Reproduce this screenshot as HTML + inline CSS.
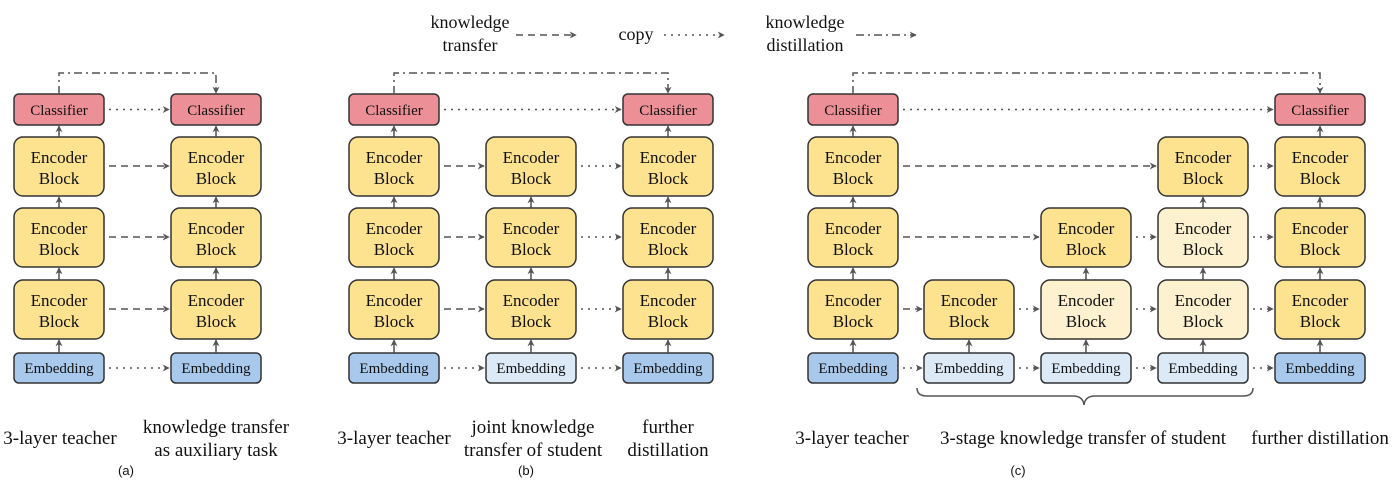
<!DOCTYPE html>
<html><head><meta charset="utf-8"><style>
html,body{margin:0;padding:0;background:#fff;width:1400px;height:495px;overflow:hidden}
svg{display:block}
text{font-family:"Liberation Serif",serif;fill:#111}
.cl{fill:#ec8f96;stroke:#333;stroke-width:1.5}
.en{fill:#fde28f;stroke:#333;stroke-width:1.5}
.enl{fill:#fdf1cf;stroke:#333;stroke-width:1.5}
.em{fill:#a9c9ec;stroke:#333;stroke-width:1.5}
.eml{fill:#dce9f7;stroke:#333;stroke-width:1.5}
.v{stroke:#444;stroke-width:1.4;fill:none;marker-end:url(#ah)}
.da{stroke:#555;stroke-width:1.5;fill:none;stroke-dasharray:7 5;marker-end:url(#ah)}
.dt{stroke:#555;stroke-width:1.5;fill:none;stroke-dasharray:2 5;marker-end:url(#ah)}
.dd{stroke:#555;stroke-width:1.5;fill:none;stroke-dasharray:8 4 2 4;marker-end:url(#ah)}
.bt{font-size:17px;text-anchor:middle}
.st{font-size:15px;text-anchor:middle}
.lb{font-size:19px;text-anchor:middle}
.lg{font-size:18px;text-anchor:middle}
.cap{font-family:"Liberation Sans",sans-serif;font-size:13px;text-anchor:middle}
</style></head><body>
<svg width="1400" height="495" viewBox="0 0 1400 495" xmlns="http://www.w3.org/2000/svg">
<defs>
<marker id="ah" viewBox="0 0 10 10" refX="9" refY="5" markerWidth="7" markerHeight="7" markerUnits="userSpaceOnUse" orient="auto"><path d="M0,0 L10,5 L0,10 L3,5 z" fill="#555"/></marker>
<g id="enc"><text class="bt" x="45" y="26">Encoder</text><text class="bt" x="45" y="47">Block</text></g>
</defs>

<text class="lg" x="470" y="28">knowledge</text>
<text class="lg" x="470" y="51">transfer</text>
<line class="da" x1="516" y1="35" x2="576" y2="35"/>
<text class="lg" x="636" y="40">copy</text>
<line class="dt" x1="664" y1="35" x2="724" y2="35"/>
<text class="lg" x="805" y="28">knowledge</text>
<text class="lg" x="805" y="51">distillation</text>
<line class="dd" x1="856" y1="35" x2="916" y2="35"/>

<g transform="translate(14,0)">
<rect class="cl" x="0" y="94" width="90" height="31" rx="5"/><text class="st" x="45" y="115">Classifier</text>
<rect class="en" x="0" y="137" width="90" height="59" rx="9"/><use href="#enc" y="137"/>
<rect class="en" x="0" y="208" width="90" height="59" rx="9"/><use href="#enc" y="208"/>
<rect class="en" x="0" y="280" width="90" height="59" rx="9"/><use href="#enc" y="280"/>
<rect class="em" x="0" y="353" width="90" height="30" rx="5"/><text class="st" x="45" y="373">Embedding</text>
<line class="v" x1="45" y1="137" x2="45" y2="126"/><line class="v" x1="45" y1="208" x2="45" y2="197"/><line class="v" x1="45" y1="280" x2="45" y2="268"/><line class="v" x1="45" y1="353" x2="45" y2="340"/>
</g>
<g transform="translate(171,0)">
<rect class="cl" x="0" y="94" width="90" height="31" rx="5"/><text class="st" x="45" y="115">Classifier</text>
<rect class="en" x="0" y="137" width="90" height="59" rx="9"/><use href="#enc" y="137"/>
<rect class="en" x="0" y="208" width="90" height="59" rx="9"/><use href="#enc" y="208"/>
<rect class="en" x="0" y="280" width="90" height="59" rx="9"/><use href="#enc" y="280"/>
<rect class="em" x="0" y="353" width="90" height="30" rx="5"/><text class="st" x="45" y="373">Embedding</text>
<line class="v" x1="45" y1="137" x2="45" y2="126"/><line class="v" x1="45" y1="208" x2="45" y2="197"/><line class="v" x1="45" y1="280" x2="45" y2="268"/><line class="v" x1="45" y1="353" x2="45" y2="340"/>
</g>
<polyline class="dd" points="59,94 59,73 216,73 216,93"/>
<line class="dt" x1="109" y1="109.5" x2="169" y2="109.5"/>
<line class="da" x1="109" y1="166" x2="169" y2="166"/>
<line class="da" x1="109" y1="237" x2="169" y2="237"/>
<line class="da" x1="109" y1="309" x2="169" y2="309"/>
<line class="dt" x1="109" y1="368" x2="169" y2="368"/>

<g transform="translate(349,0)">
<rect class="cl" x="0" y="94" width="90" height="31" rx="5"/><text class="st" x="45" y="115">Classifier</text>
<rect class="en" x="0" y="137" width="90" height="59" rx="9"/><use href="#enc" y="137"/>
<rect class="en" x="0" y="208" width="90" height="59" rx="9"/><use href="#enc" y="208"/>
<rect class="en" x="0" y="280" width="90" height="59" rx="9"/><use href="#enc" y="280"/>
<rect class="em" x="0" y="353" width="90" height="30" rx="5"/><text class="st" x="45" y="373">Embedding</text>
<line class="v" x1="45" y1="137" x2="45" y2="126"/><line class="v" x1="45" y1="208" x2="45" y2="197"/><line class="v" x1="45" y1="280" x2="45" y2="268"/><line class="v" x1="45" y1="353" x2="45" y2="340"/>
</g>
<g transform="translate(486,0)">
<rect class="en" x="0" y="137" width="90" height="59" rx="9"/><use href="#enc" y="137"/>
<rect class="en" x="0" y="208" width="90" height="59" rx="9"/><use href="#enc" y="208"/>
<rect class="en" x="0" y="280" width="90" height="59" rx="9"/><use href="#enc" y="280"/>
<rect class="eml" x="0" y="353" width="90" height="30" rx="5"/><text class="st" x="45" y="373">Embedding</text>
<line class="v" x1="45" y1="208" x2="45" y2="197"/><line class="v" x1="45" y1="280" x2="45" y2="268"/><line class="v" x1="45" y1="353" x2="45" y2="340"/>
</g>
<g transform="translate(623,0)">
<rect class="cl" x="0" y="94" width="90" height="31" rx="5"/><text class="st" x="45" y="115">Classifier</text>
<rect class="en" x="0" y="137" width="90" height="59" rx="9"/><use href="#enc" y="137"/>
<rect class="en" x="0" y="208" width="90" height="59" rx="9"/><use href="#enc" y="208"/>
<rect class="en" x="0" y="280" width="90" height="59" rx="9"/><use href="#enc" y="280"/>
<rect class="em" x="0" y="353" width="90" height="30" rx="5"/><text class="st" x="45" y="373">Embedding</text>
<line class="v" x1="45" y1="137" x2="45" y2="126"/><line class="v" x1="45" y1="208" x2="45" y2="197"/><line class="v" x1="45" y1="280" x2="45" y2="268"/><line class="v" x1="45" y1="353" x2="45" y2="340"/>
</g>
<polyline class="dd" points="394,94 394,73 668,73 668,93"/>
<line class="dt" x1="444" y1="109.5" x2="621" y2="109.5"/>
<line class="da" x1="444" y1="166" x2="484" y2="166"/>
<line class="da" x1="444" y1="237" x2="484" y2="237"/>
<line class="da" x1="444" y1="309" x2="484" y2="309"/>
<line class="dt" x1="444" y1="368" x2="484" y2="368"/>
<line class="dt" x1="581" y1="166" x2="621" y2="166"/>
<line class="dt" x1="581" y1="237" x2="621" y2="237"/>
<line class="dt" x1="581" y1="309" x2="621" y2="309"/>
<line class="dt" x1="581" y1="368" x2="621" y2="368"/>

<g transform="translate(808,0)">
<rect class="cl" x="0" y="94" width="90" height="31" rx="5"/><text class="st" x="45" y="115">Classifier</text>
<rect class="en" x="0" y="137" width="90" height="59" rx="9"/><use href="#enc" y="137"/>
<rect class="en" x="0" y="208" width="90" height="59" rx="9"/><use href="#enc" y="208"/>
<rect class="en" x="0" y="280" width="90" height="59" rx="9"/><use href="#enc" y="280"/>
<rect class="em" x="0" y="353" width="90" height="30" rx="5"/><text class="st" x="45" y="373">Embedding</text>
<line class="v" x1="45" y1="137" x2="45" y2="126"/><line class="v" x1="45" y1="208" x2="45" y2="197"/><line class="v" x1="45" y1="280" x2="45" y2="268"/><line class="v" x1="45" y1="353" x2="45" y2="340"/>
</g>
<g transform="translate(924,0)">
<rect class="en" x="0" y="280" width="90" height="59" rx="9"/><use href="#enc" y="280"/>
<rect class="eml" x="0" y="353" width="90" height="30" rx="5"/><text class="st" x="45" y="373">Embedding</text>
<line class="v" x1="45" y1="353" x2="45" y2="340"/>
</g>
<g transform="translate(1041,0)">
<rect class="en" x="0" y="208" width="90" height="59" rx="9"/><use href="#enc" y="208"/>
<rect class="enl" x="0" y="280" width="90" height="59" rx="9"/><use href="#enc" y="280"/>
<rect class="eml" x="0" y="353" width="90" height="30" rx="5"/><text class="st" x="45" y="373">Embedding</text>
<line class="v" x1="45" y1="280" x2="45" y2="268"/><line class="v" x1="45" y1="353" x2="45" y2="340"/>
</g>
<g transform="translate(1158,0)">
<rect class="en" x="0" y="137" width="90" height="59" rx="9"/><use href="#enc" y="137"/>
<rect class="enl" x="0" y="208" width="90" height="59" rx="9"/><use href="#enc" y="208"/>
<rect class="enl" x="0" y="280" width="90" height="59" rx="9"/><use href="#enc" y="280"/>
<rect class="eml" x="0" y="353" width="90" height="30" rx="5"/><text class="st" x="45" y="373">Embedding</text>
<line class="v" x1="45" y1="208" x2="45" y2="197"/><line class="v" x1="45" y1="280" x2="45" y2="268"/><line class="v" x1="45" y1="353" x2="45" y2="340"/>
</g>
<g transform="translate(1275,0)">
<rect class="cl" x="0" y="94" width="90" height="31" rx="5"/><text class="st" x="45" y="115">Classifier</text>
<rect class="en" x="0" y="137" width="90" height="59" rx="9"/><use href="#enc" y="137"/>
<rect class="en" x="0" y="208" width="90" height="59" rx="9"/><use href="#enc" y="208"/>
<rect class="en" x="0" y="280" width="90" height="59" rx="9"/><use href="#enc" y="280"/>
<rect class="em" x="0" y="353" width="90" height="30" rx="5"/><text class="st" x="45" y="373">Embedding</text>
<line class="v" x1="45" y1="137" x2="45" y2="126"/><line class="v" x1="45" y1="208" x2="45" y2="197"/><line class="v" x1="45" y1="280" x2="45" y2="268"/><line class="v" x1="45" y1="353" x2="45" y2="340"/>
</g>
<polyline class="dd" points="853,94 853,73 1320,73 1320,93"/>
<line class="dt" x1="903" y1="109.5" x2="1273" y2="109.5"/>
<line class="da" x1="903" y1="166" x2="1156" y2="166"/>
<line class="da" x1="903" y1="237" x2="1039" y2="237"/>
<line class="da" x1="903" y1="309" x2="922" y2="309"/>
<line class="dt" x1="1019" y1="309" x2="1039" y2="309"/>
<line class="dt" x1="1136" y1="309" x2="1156" y2="309"/>
<line class="dt" x1="1253" y1="309" x2="1273" y2="309"/>
<line class="dt" x1="1136" y1="237" x2="1156" y2="237"/>
<line class="dt" x1="1253" y1="237" x2="1273" y2="237"/>
<line class="dt" x1="1253" y1="166" x2="1273" y2="166"/>
<line class="dt" x1="903" y1="368" x2="922" y2="368"/>
<line class="dt" x1="1019" y1="368" x2="1039" y2="368"/>
<line class="dt" x1="1136" y1="368" x2="1156" y2="368"/>
<line class="dt" x1="1253" y1="368" x2="1273" y2="368"/>
<path d="M917,388 Q917,396 927,396 L1073,396 Q1083,396 1084,405 Q1085,396 1095,396 L1243,396 Q1253,396 1253,388" fill="none" stroke="#555" stroke-width="1.5"/>

<text class="lb" x="60" y="444">3-layer teacher</text>
<text class="lb" x="216" y="433">knowledge transfer</text>
<text class="lb" x="216" y="456">as auxiliary task</text>
<text class="cap" x="126" y="475">(a)</text>
<text class="lb" x="394" y="444">3-layer teacher</text>
<text class="lb" x="533" y="433">joint knowledge</text>
<text class="lb" x="533" y="456">transfer of student</text>
<text class="lb" x="668" y="433">further</text>
<text class="lb" x="668" y="456">distillation</text>
<text class="cap" x="526" y="475">(b)</text>
<text class="lb" x="852" y="444">3-layer teacher</text>
<text class="lb" x="1083" y="444">3-stage knowledge transfer of student</text>
<text class="lb" x="1320" y="444">further distillation</text>
<text class="cap" x="1018" y="475">(c)</text>
</svg>
</body></html>
